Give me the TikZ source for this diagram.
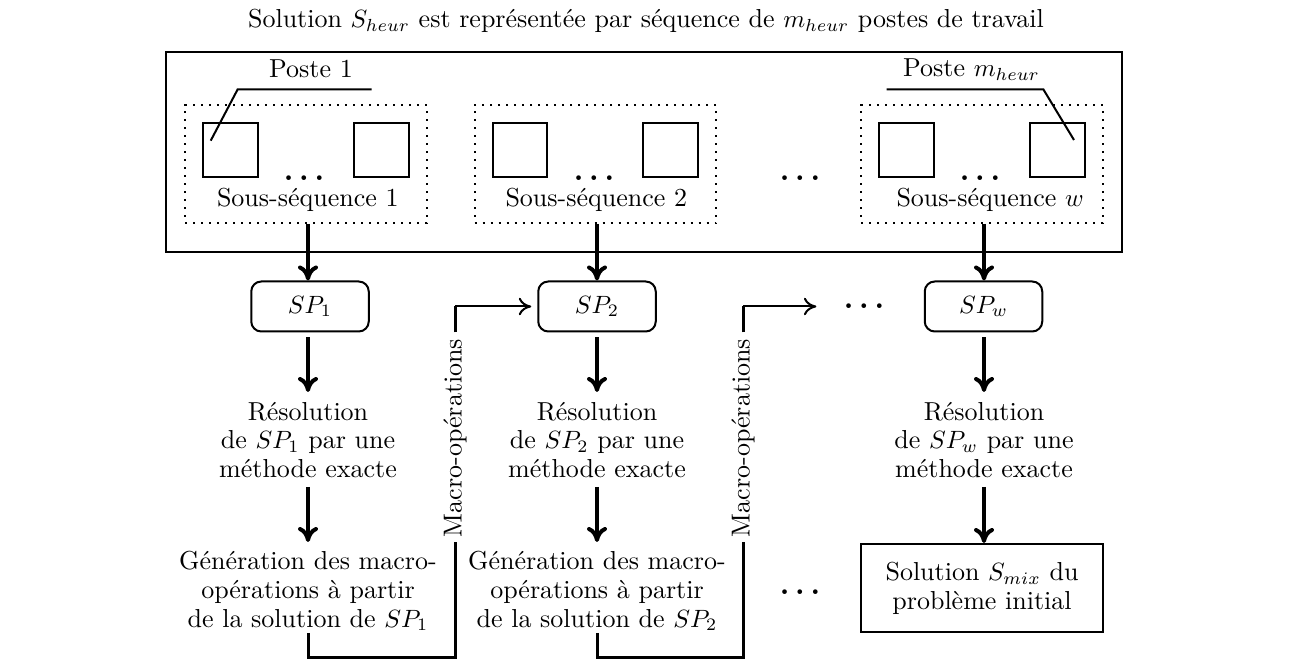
\documentclass[tikz,border=0pt]{standalone}
\usetikzlibrary{arrows.meta,calc}
\begin{document}
\begin{tikzpicture}[x=0.4pt,y=-0.4pt,
  every node/.style={inner sep=0pt},
  base/.style={font=\fontsize{10.4}{11.5}\selectfont},
  frame/.style={draw, line width=0.8pt},
  subseq/.style={draw, line width=0.8pt, dash pattern=on 0.8pt off 2.4pt, minimum width=96.7pt, minimum height=47.2pt},
  poste/.style={draw, line width=0.8pt, minimum width=21.8pt, minimum height=21.6pt},
  spbox/.style={base, draw, line width=0.8pt, rounded corners=4pt, minimum width=47pt, minimum height=20pt},
  txt/.style={base, align=center},
  bigdots/.style={font=\fontsize{13.2}{14}\selectfont\boldmath},
  bigarrow/.style={line width=1.6pt, -{Computer Modern Rightarrow[length=6pt,width=8pt]}},
  macroline/.style={line width=1.2pt},
  thinarrow/.style={line width=0.8pt, -{Computer Modern Rightarrow[length=5pt,width=7pt]}},
  leader/.style={line width=0.8pt}
]
\useasboundingbox (0,0) rectangle (1294,670);

% title
\node[base, anchor=base] (title) at (646,28) {Solution $S_{heur}$ est représentée par séquence de $m_{heur}$ postes de travail};

% outer frame
\node[frame, minimum width=382.4pt, minimum height=80pt] (outer) at (644,152) {};

% sub-sequences
\node[subseq] (sub1) at (306,164) {};
\node[subseq] (sub2) at (595.5,164) {};
\node[subseq] (sub3) at (982,164) {};

\node[poste] (sq11) at (230.5,150) {};
\node[poste] (sq12) at (381.5,150) {};
\node[poste] (sq21) at (520,150) {};
\node[poste] (sq22) at (670.5,150) {};
\node[poste] (sq31) at (906.5,150) {};
\node[poste] (sq32) at (1057.5,150) {};

\node[bigdots] (d1) at (304,178) {$\ldots$};
\node[bigdots] (d2) at (594,178) {$\ldots$};
\node[bigdots] (d3) at (980,178) {$\ldots$};
\node[bigdots] (dmid) at (800,178) {$\ldots$};

\node[base, anchor=base west] (ss1) at (216.5,206.7) {Sous-séquence 1};
\node[base, anchor=base west] (ss2) at (505,206.7) {Sous-séquence 2};
\node[base, anchor=base west] (ss3) at (896,206.7) {Sous-séquence $w$};

% poste labels
\node[base, anchor=base] (p1) at (311,78) {Poste 1};
\node[base, anchor=base] (pm) at (971.5,77) {Poste $m_{heur}$};
\coordinate (p1a) at (371.7,89.3);
\coordinate (p1b) at (237.7,89.3);
\coordinate (p1c) at (210.7,140.7);
\draw[leader] (p1a) -- (p1b) -- (p1c);
\coordinate (pma) at (886.7,89.3);
\coordinate (pmb) at (1043.3,89.3);
\coordinate (pmc) at (1074,140);
\draw[leader] (pma) -- (pmb) -- (pmc);

% subproblems
\node[spbox] (sp1) at (310,306.5) {$SP_1$};
\node[spbox] (sp2) at (597,306.5) {$SP_2$};
\node[spbox] (spw) at (983.5,306.5) {$SP_w$};
\node[bigdots] (dsp) at (864,306) {$\ldots$};

% resolution
\node[txt] (res1) at (308,440) {Résolution\\de $SP_1$ par une\\méthode exacte};
\node[txt] (res2) at (597,440) {Résolution\\de $SP_2$ par une\\méthode exacte};
\node[txt] (res3) at (984,440) {Résolution\\de $SP_w$ par une\\méthode exacte};

% generation
\node[txt] (gen1) at (308,591) {Génération des macro-\\opérations à partir\\de la solution de $SP_1$};
\node[txt] (gen2) at (597,591) {Génération des macro-\\opérations à partir\\de la solution de $SP_2$};
\node[frame, txt, minimum width=96.8pt, minimum height=35.2pt] (sol) at (982,588) {Solution $S_{mix}$ du\\problème initial};
\node[bigdots] (dbot) at (800,592) {$\ldots$};

% vertical arrows
\draw[bigarrow] (sub1.south -| res1.center) -- (sp1.north -| res1.center);
\draw[bigarrow] (sub2.south -| res2.center) -- (sp2.north -| res2.center);
\draw[bigarrow] (sub3.south -| res3.center) -- (spw.north -| res3.center);

\draw[bigarrow] ($(sp1.south -| res1.center)+(0,5)$) -- ($(res1.center)+(0,-48)$);
\draw[bigarrow] ($(sp2.south -| res2.center)+(0,5)$) -- ($(res2.center)+(0,-48)$);
\draw[bigarrow] ($(spw.south -| res3.center)+(0,5)$) -- ($(res3.center)+(0,-48)$);

\draw[bigarrow] ($(res1.center)+(0,47)$) -- ($(gen1.center)+(0,-49)$);
\draw[bigarrow] ($(res2.center)+(0,47)$) -- ($(gen2.center)+(0,-49)$);
\draw[bigarrow] ($(res3.center)+(0,47)$) -- (sol.north -| res3.center);

% macro-operations links
\node[base, rotate=90] (mac1) at (455,438) {Macro-opérations};
\node[base, rotate=90] (mac2) at (743,438) {Macro-opérations};

\coordinate (m1top) at (mac1.center |- sp2.west);
\draw[macroline] ($(gen1.center)+(0,42)$) -- ++(0,25) -| ($(mac1.west)+(0,4)$);
\draw[macroline] ($(mac1.east)+(0,-6)$) -- (m1top);
\draw[thinarrow] (m1top) -- ($(sp2.west)+(-6,0)$);

\coordinate (m2top) at (mac2.center |- sp2.west);
\draw[macroline] ($(gen2.center)+(0,42)$) -- ++(0,25) -| ($(mac2.west)+(0,4)$);
\draw[macroline] ($(mac2.east)+(0,-6)$) -- (m2top);
\draw[thinarrow] (m2top) -- ($(dsp.west |- m2top)+(-27,0)$);
\end{tikzpicture}
\end{document}
